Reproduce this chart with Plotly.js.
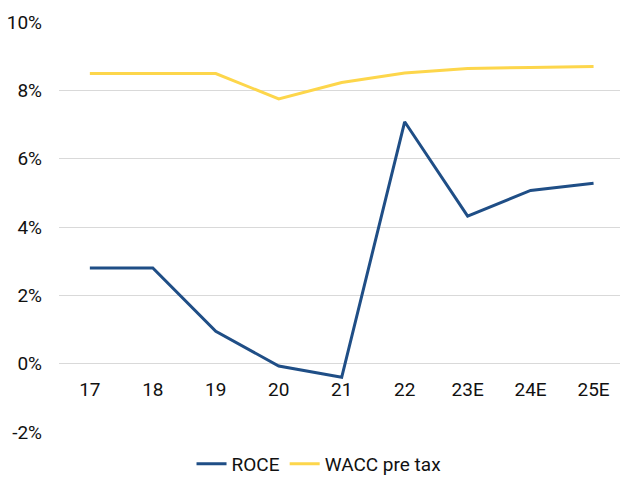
<!DOCTYPE html>
<html>
<head>
<meta charset="utf-8">
<script src="https://cdn.plot.ly/plotly-3.0.1.min.js"></script>
<style>html,body{margin:0;padding:0;background:#fff;}#chart{width:620px;height:477px;}</style>
</head>
<body>
<div id="chart"></div>
<script>
const categories = ["17", "18", "19", "20", "21", "22", "23E", "24E", "25E"];
const roce = [2.8, 2.8, 0.95, -0.07, -0.4, 7.08, 4.32, 5.07, 5.28];
const wacc = [8.49, 8.49, 8.49, 7.75, 8.23, 8.51, 8.64, 8.67, 8.70];
const yTickVals = [-2, 0, 2, 4, 6, 8, 10];
const yTickText = ["-2%", "0%", "2%", "4%", "6%", "8%", "10%"];

const yMin = -2, yMax = 10;
const traces = [
  {x: categories, y: roce, name: "ROCE", type: "scatter", mode: "lines",
   line: {color: "#1F4E86", width: 3}},
  {x: categories, y: wacc, name: "WACC pre tax", type: "scatter", mode: "lines",
   line: {color: "#FDD64B", width: 3}}
];
const layout = {
  width: 620, height: 477,
  margin: {l: 59, r: 0, t: 22, b: 45, autoexpand: false},
  paper_bgcolor: "#fff", plot_bgcolor: "#fff",
  font: {family: "Roboto, sans-serif", size: 19, color: "#111"},
  showlegend: true,
  legend: {orientation: "h", x: 0.4635, xanchor: "center", y: -0.078, yanchor: "middle",
           font: {size: 19}, itemwidth: 30, traceorder: "normal"},
  xaxis: {type: "category", range: [-0.49, 8.42], showgrid: false, zeroline: false,
          showline: false, ticks: "", anchor: "free", position: (0 - yMin) / (yMax - yMin),
          ticklabelstandoff: 12, fixedrange: true},
  yaxis: {range: [yMin, yMax], tickvals: yTickVals, ticktext: yTickText,
          showgrid: true, gridcolor: "#d9d9d9", gridwidth: 1, zeroline: false,
          showline: false, ticks: "", ticklabelstandoff: 16, fixedrange: true}
};
Plotly.newPlot("chart", traces, layout, {displayModeBar: false, staticPlot: true});
</script>
</body>
</html>
